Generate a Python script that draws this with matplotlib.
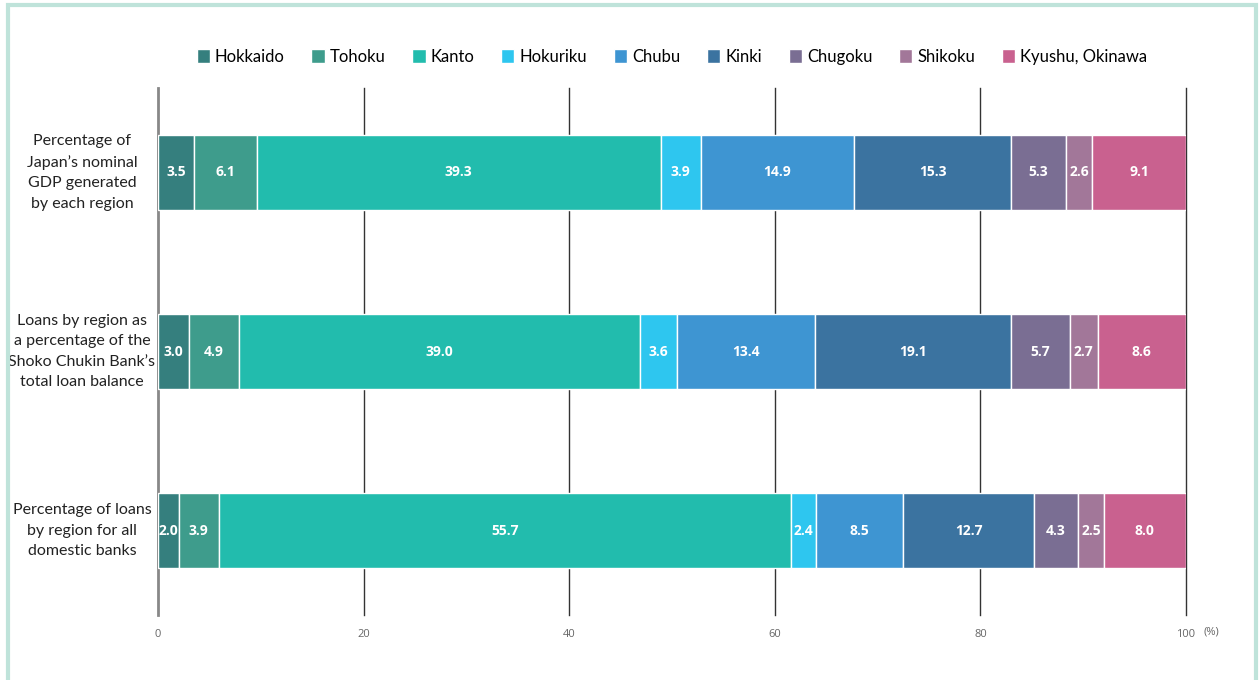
import numpy as np
from matplotlib import pyplot as plt
from matplotlib.patches import Rectangle

# Data
rows = ["Percentage of\nJapan\u2019s nominal\nGDP generated\nby each region",
        "Loans by region as\na percentage of the\nShoko Chukin Bank\u2019s\ntotal loan balance",
        "Percentage of loans\nby region for all\ndomestic banks"]
regions = ["Hokkaido", "Tohoku", "Kanto", "Hokuriku", "Chubu", "Kinki",
           "Chugoku", "Shikoku", "Kyushu, Okinawa"]
gdp_share = [3.5, 6.1, 39.3, 3.9, 14.9, 15.3, 5.3, 2.6, 9.1]
shoko_loans = [3.0, 4.9, 39.0, 3.6, 13.4, 19.1, 5.7, 2.7, 8.6]
all_banks = [2.0, 3.9, 55.7, 2.4, 8.5, 12.7, 4.3, 2.5, 8.0]
xticks = [0, 20, 40, 60, 80, 100]

colors = ["#357f7e", "#3e9c8c", "#22bcad", "#2ec6ef", "#3e95d2",
          "#3b73a0", "#7a6e93", "#a27799", "#c9618f"]

narrow = ['Lato', 'DejaVu Sans']
plt.rcParams['font.family'] = ['Open Sans', 'DejaVu Sans']

fig = plt.figure(figsize=(12.6, 6.8), dpi=100)
# light frame around the chart
fig.patches.append(Rectangle((8 / 1260, -0.05), 1248 / 1260, 1.05 - 5 / 680,
                             transform=fig.transFigure, fill=False,
                             edgecolor="#bfe3da", linewidth=3))

ax = fig.add_axes([158 / 1260, 1 - 615 / 680, 1028 / 1260, 527 / 680])

data = np.array([gdp_share, shoko_loans, all_banks])
ypos = np.arange(len(rows))

# grid lines behind bars
for x in xticks[1:]:
    ax.axvline(x, color="#333333", linewidth=1, zorder=0, clip_on=False)
ax.axvline(0, color="#888888", linewidth=2, zorder=0, clip_on=False)

left = np.zeros(len(rows))
for j, name in enumerate(regions):
    vals = data[:, j]
    ax.barh(ypos, vals, left=left, height=0.42, color=colors[j],
            edgecolor="white", linewidth=1, label=name, zorder=2)
    for i in range(len(rows)):
        ax.text(left[i] + vals[i] / 2, ypos[i], f"{vals[i]:.1f}",
                ha="center", va="center", color="white", fontsize=10,
                fontweight="bold", zorder=3)
    left += vals

ax.set_xlim(0, 100)
ax.set_ylim(2.47, -0.47)
for s in ax.spines.values():
    s.set_visible(False)
ax.set_yticks([])
ax.set_xticks(xticks)
ax.set_xticklabels([str(x) for x in xticks], color="#666666", fontsize=8)
ax.tick_params(axis="x", length=0, pad=10)
fig.text(1204 / 1260, 1 - 632 / 680, "(%)", ha="left", va="center",
         color="#666666", fontsize=8)

for i, lab in enumerate(rows):
    ax.text(-7.4, ypos[i], lab, ha="center", va="center", fontsize=11.5,
            color="#222222", linespacing=1.6, clip_on=False, family=narrow)

fig.legend(loc="center", bbox_to_anchor=(672 / 1260, 1 - 57 / 680), ncol=9,
           frameon=False, handlelength=0.8, handleheight=0.9,
           handletextpad=0.3, columnspacing=1.6,
           prop={'family': narrow, 'size': 12})

fig.savefig("out.png", dpi=100)
